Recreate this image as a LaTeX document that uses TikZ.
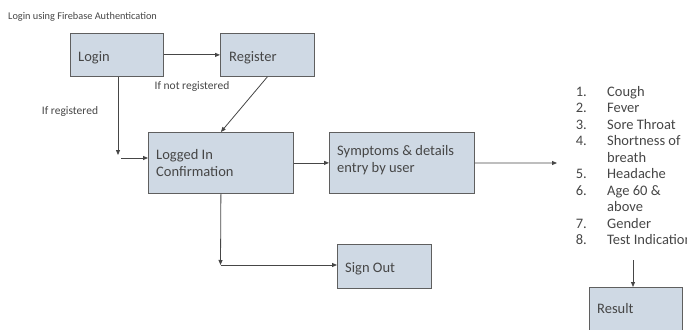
\documentclass[tikz,border=0pt]{standalone}
\usepackage{fontspec}
\setmainfont{Carlito}
\usetikzlibrary{arrows.meta}
\definecolor{boxfill}{RGB}{207,217,228}
\definecolor{boxline}{RGB}{95,95,95}
\definecolor{txt}{RGB}{70,70,70}
\definecolor{arr}{RGB}{70,70,70}
\tikzset{
  box/.style={draw=boxline, fill=boxfill, line width=0.8pt, anchor=north west, inner sep=0pt},
  boxtext/.style={text=txt, font=\fontsize{14.5}{16.5}\selectfont, inner sep=0pt, align=left},
  lbl/.style={text=txt, font=\fontsize{11.5}{13}\selectfont, inner sep=0pt},
  conn/.style={draw=arr, line width=0.8pt, -{Triangle[length=5pt,width=4pt]}},
}
\begin{document}
\begin{tikzpicture}[x=1pt,y=-1pt]
\useasboundingbox (0,0) rectangle (687,329);
\clip (0,0) rectangle (687,329);
% title
\node[lbl, font=\fontsize{10.3}{12}\selectfont, anchor=base west] (title) at (8,20) {Login using Firebase Authentication};
% boxes
\node[box, minimum width=93pt, minimum height=43pt] (login) at (70,33) {};
\node[box, minimum width=94pt, minimum height=43pt] (register) at (220,33) {};
\node[box, minimum width=145pt, minimum height=61pt] (logged) at (148,132) {};
\node[box, minimum width=145pt, minimum height=61pt] (symp) at (329,132) {};
\node[box, minimum width=94pt, minimum height=44pt] (signout) at (337,244) {};
\node[box, minimum width=93pt, minimum height=50pt] (result) at (589,287) {};
% box texts
\node[boxtext, anchor=base west] (logintext) at (78,61) {Login};
\node[boxtext, anchor=base west] (registertext) at (229,61) {Register};
\node[boxtext, anchor=base west] (loggedtext1) at (156,159) {Logged In};
\node[boxtext, anchor=base west] (loggedtext2) at (156,176) {Confirmation};
\node[boxtext, anchor=base west] (symptext1) at (337,155) {Symptoms \& details};
\node[boxtext, anchor=base west] (symptext2) at (337,172) {entry by user};
\node[boxtext, anchor=base west] (signouttext) at (345,272) {Sign Out};
\node[boxtext, anchor=base west] (resulttext) at (597,313) {Result};
% labels
\node[lbl] (notreg) at (192,86) {If not registered};
\node[lbl] (ifreg) at (70,111) {If registered};
% list
\foreach \i/\y in {1/96,2/112.5,3/129,4/145.5,5/178.5,6/195,7/228,8/244.5}{
  \node[boxtext, anchor=base east] (num\i) at (587,\y) {\i.};
}
\node[boxtext, anchor=base west] (it1) at (607,96) {Cough};
\node[boxtext, anchor=base west] (it2) at (607,112.5) {Fever};
\node[boxtext, anchor=base west] (it3) at (607,129) {Sore Throat};
\node[boxtext, anchor=base west] (it4) at (607,145.5) {Shortness of};
\node[boxtext, anchor=base west] (it4b) at (607,162) {breath};
\node[boxtext, anchor=base west] (it5) at (607,178.5) {Headache};
\node[boxtext, anchor=base west] (it6) at (607,195) {Age 60 \&};
\node[boxtext, anchor=base west] (it6b) at (607,211.5) {above};
\node[boxtext, anchor=base west] (it7) at (607,228) {Gender};
\node[boxtext, anchor=base west] (it8) at (607,244.5) {Test Indication};
% coordinates
\coordinate (c1) at (118,155);
\coordinate (c2) at (121,158);
\coordinate (c3) at (220.5,265);
\coordinate (c4) at (557,163);
\coordinate (c5) at (633,260);
% connectors
\draw[conn] (login.east) -- (register.west);
\draw[conn] (c1 |- login.south) -- (c1);
\draw[conn] (c2) -- (c2 -| logged.west);
\draw[conn] (register.south) -- (logged.north);
\draw[conn] (logged.east) -- (symp.west);
\draw[conn] (symp.east) -- (c4);
\draw[conn] (logged.south) -- (c3);
\draw[conn] (c3) -- (c3 -| signout.west);
\draw[conn] (c5) -- (c5 |- result.north);
\end{tikzpicture}
\end{document}
